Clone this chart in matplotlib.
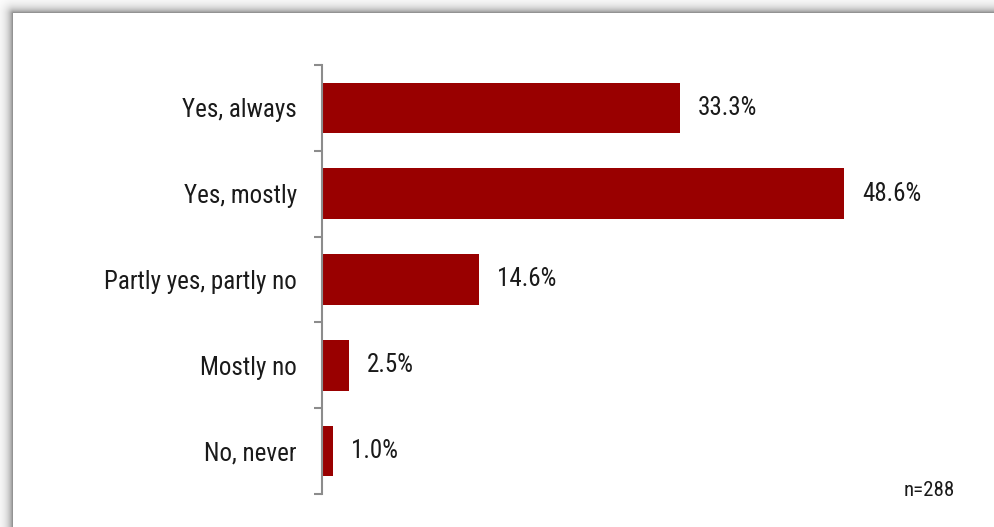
import numpy as np
import matplotlib
matplotlib.use("Agg")
import matplotlib.pyplot as plt
from matplotlib import font_manager

categories = ["Yes, always", "Yes, mostly", "Partly yes, partly no", "Mostly no", "No, never"]
shares = [33.3, 48.6, 14.6, 2.5, 1.0]
sample_note = "n=288"

names = {f.name for f in font_manager.fontManager.ttflist}
family = [f for f in ["Roboto Condensed", "Archivo Narrow", "Liberation Sans", "DejaVu Sans"] if f in names]
plt.rcParams["font.family"] = family

W, H = 994, 527
fig = plt.figure(figsize=(W / 100, H / 100), dpi=100)

# soft drop shadow along the top and left edges of the white panel
bg = fig.add_axes([0, 0, 1, 1])
rows, cols = np.mgrid[0:H, 0:W]
edge = 13
d = np.hypot(np.clip(edge - rows, 0, None), np.clip(edge - cols, 0, None))
shade = np.where(d == 0, 1.0, 1 - 0.42 * np.exp(-(d - 1) / 5.0))
bg.imshow(np.dstack([shade] * 3), extent=[0, 1, 0, 1], aspect="auto", interpolation="bilinear")
bg.set_axis_off()

ax = fig.add_axes([322 / W, 33 / H, 645 / W, 429 / H])
ax.patch.set_alpha(0)
y = np.arange(len(categories))
ax.barh(y, shares, height=0.59, color="#990000")
ax.set_ylim(len(categories) - 0.5, -0.5)
ax.set_xlim(0, 60)

ax.set_yticks(y)
ax.set_yticklabels(categories, fontsize=18, color="#1a1a1a")
ax.tick_params(axis="y", which="major", length=0, pad=18)
ax.set_yticks(np.arange(len(categories) + 1) - 0.5, minor=True)
ax.tick_params(axis="y", which="minor", length=6, width=1.5, color="#8c8c8c")
ax.set_xticks([])
for s in ["top", "right", "bottom"]:
    ax.spines[s].set_visible(False)
ax.spines["left"].set_color("#8c8c8c")
ax.spines["left"].set_linewidth(1.5)

for yi, v in zip(y, shares):
    ax.annotate(f"{v:.1f}%", xy=(v, yi), xytext=(13, 0), textcoords="offset points",
                ha="left", va="center", fontsize=18, color="#1a1a1a")

fig.text(955 / W, 1 - 490 / H, sample_note, ha="right", va="center", fontsize=15, color="#1a1a1a")

fig.savefig("out.png", dpi=100)
